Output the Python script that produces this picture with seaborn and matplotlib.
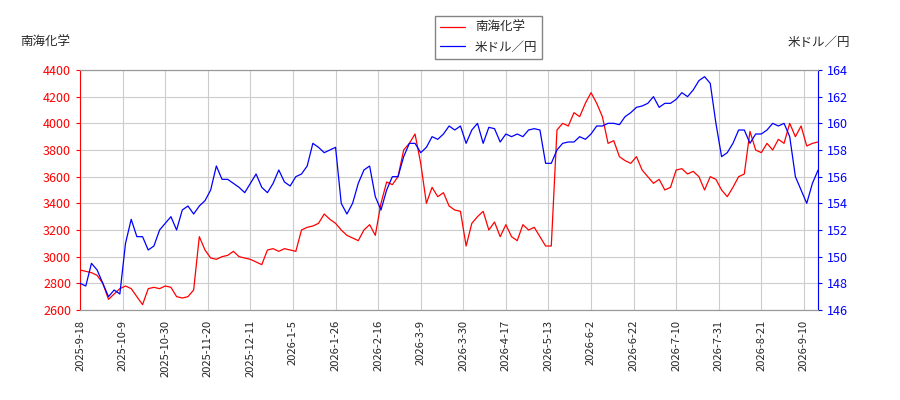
import matplotlib
matplotlib.use("Agg")
import matplotlib.pyplot as plt
import seaborn as sns
import numpy as np

# Values, one point every 2 trading days
nankai = [2900, 2890, 2880, 2860, 2800, 2680, 2720, 2760, 2780, 2760, 2700, 2640, 2760, 2770, 2760, 2780,
          2770, 2700, 2690, 2700, 2750, 3150, 3050, 2990, 2980, 3000, 3010, 3040, 3000, 2990, 2980, 2960,
          2940, 3050, 3060, 3040, 3060, 3050, 3040, 3200, 3220, 3230, 3250, 3320, 3280, 3250, 3200, 3160,
          3140, 3120, 3200, 3240, 3160, 3400, 3560, 3540, 3600, 3800, 3850, 3920, 3700, 3400, 3520, 3450,
          3480, 3380, 3350, 3340, 3080, 3250, 3300, 3340, 3200, 3260, 3150, 3240, 3150, 3120, 3240, 3200,
          3220, 3150, 3080, 3080, 3950, 4000, 3980, 4080, 4050, 4150, 4230, 4150, 4050, 3850, 3870, 3750,
          3720, 3700, 3750, 3650, 3600, 3550, 3580, 3500, 3520, 3650, 3660, 3620, 3640, 3600, 3500, 3600,
          3580, 3500, 3450, 3520, 3600, 3620, 3940, 3800, 3780, 3850, 3800, 3880, 3850, 4000, 3900, 3980,
          3830, 3850, 3860]
usdjpy = [148.0, 147.8, 149.5, 149.0, 148.0, 147.0, 147.5, 147.2, 151.0, 152.8, 151.5, 151.5, 150.5, 150.8,
          152.0, 152.5, 153.0, 152.0, 153.5, 153.8, 153.2, 153.8, 154.2, 155.0, 156.8, 155.8, 155.8, 155.5,
          155.2, 154.8, 155.5, 156.2, 155.2, 154.8, 155.5, 156.5, 155.6, 155.3, 156.0, 156.2, 156.8, 158.5,
          158.2, 157.8, 158.0, 158.2, 154.0, 153.2, 154.0, 155.5, 156.5, 156.8, 154.5, 153.5, 155.0, 156.0,
          156.0, 157.5, 158.5, 158.5, 157.8, 158.2, 159.0, 158.8, 159.2, 159.8, 159.5, 159.8, 158.5, 159.5,
          160.0, 158.5, 159.7, 159.6, 158.6, 159.2, 159.0, 159.2, 159.0, 159.5, 159.6, 159.5, 157.0, 157.0,
          158.0, 158.5, 158.6, 158.6, 159.0, 158.8, 159.2, 159.8, 159.8, 160.0, 160.0, 159.9, 160.5, 160.8,
          161.2, 161.3, 161.5, 162.0, 161.2, 161.5, 161.5, 161.8, 162.3, 162.0, 162.5, 163.2, 163.5, 163.0,
          160.0, 157.5, 157.8, 158.5, 159.5, 159.5, 158.5, 159.2, 159.2, 159.5, 160.0, 159.8, 160.0, 159.0,
          156.0, 155.0, 154.0, 155.5, 156.5]
tick_labels = ["2025-9-18", "2025-10-9", "2025-10-30", "2025-11-20", "2025-12-11", "2026-1-5",
               "2026-1-26", "2026-2-16", "2026-3-9", "2026-3-30", "2026-4-17", "2026-5-13",
               "2026-6-2", "2026-6-22", "2026-7-10", "2026-7-31", "2026-8-21", "2026-9-10"]

sns.set_style("white")
plt.rcParams['font.family'] = ['Noto Sans CJK JP', 'DejaVu Sans']

x = np.arange(len(nankai)) * 2
fig = plt.figure(figsize=(9, 4), dpi=100)
ax = fig.add_axes([0.089, 0.225, 0.82, 0.6])
ax2 = ax.twinx()

l1 = sns.lineplot(x=x, y=nankai, ax=ax, color="red", linewidth=0.9, label="南海化学", legend=False)
l2 = sns.lineplot(x=x, y=usdjpy, ax=ax2, color="blue", linewidth=0.9, label="米ドル／円", legend=False)

ax.set_xlim(0, x[-1])
ax.set_ylim(2600, 4400)
ax.set_yticks(np.arange(2600, 4401, 200))
ax2.set_ylim(146, 164)
ax2.set_yticks(np.arange(146, 165, 2))
ax.set_xticks(np.arange(len(tick_labels)) * 15)
ax.set_xticklabels(tick_labels, rotation=90, fontsize=8)
ax.grid(True, color="#cccccc", linewidth=0.8)
ax.tick_params(axis='y', colors="red", labelsize=9, length=3)
ax.tick_params(axis='y', labelcolor="red")
ax2.tick_params(axis='y', colors="blue", labelsize=9, length=3)
for a in (ax, ax2):
    for s in a.spines.values():
        s.set_color("#999999")
ax.spines['left'].set_color("red")
ax2.spines['left'].set_visible(False)
ax2.spines['right'].set_color("blue")

fig.text(0.022, 0.885, "南海化学", fontsize=9)
fig.text(0.945, 0.885, "米ドル／円", fontsize=9, ha="right")
h1, lab1 = ax.get_legend_handles_labels()
h2, lab2 = ax2.get_legend_handles_labels()
fig.legend(h1 + h2, lab1 + lab2, loc="upper center", bbox_to_anchor=(0.543, 0.975),
           fontsize=9, frameon=True, fancybox=False, edgecolor="#666666")

fig.savefig("out.png")
